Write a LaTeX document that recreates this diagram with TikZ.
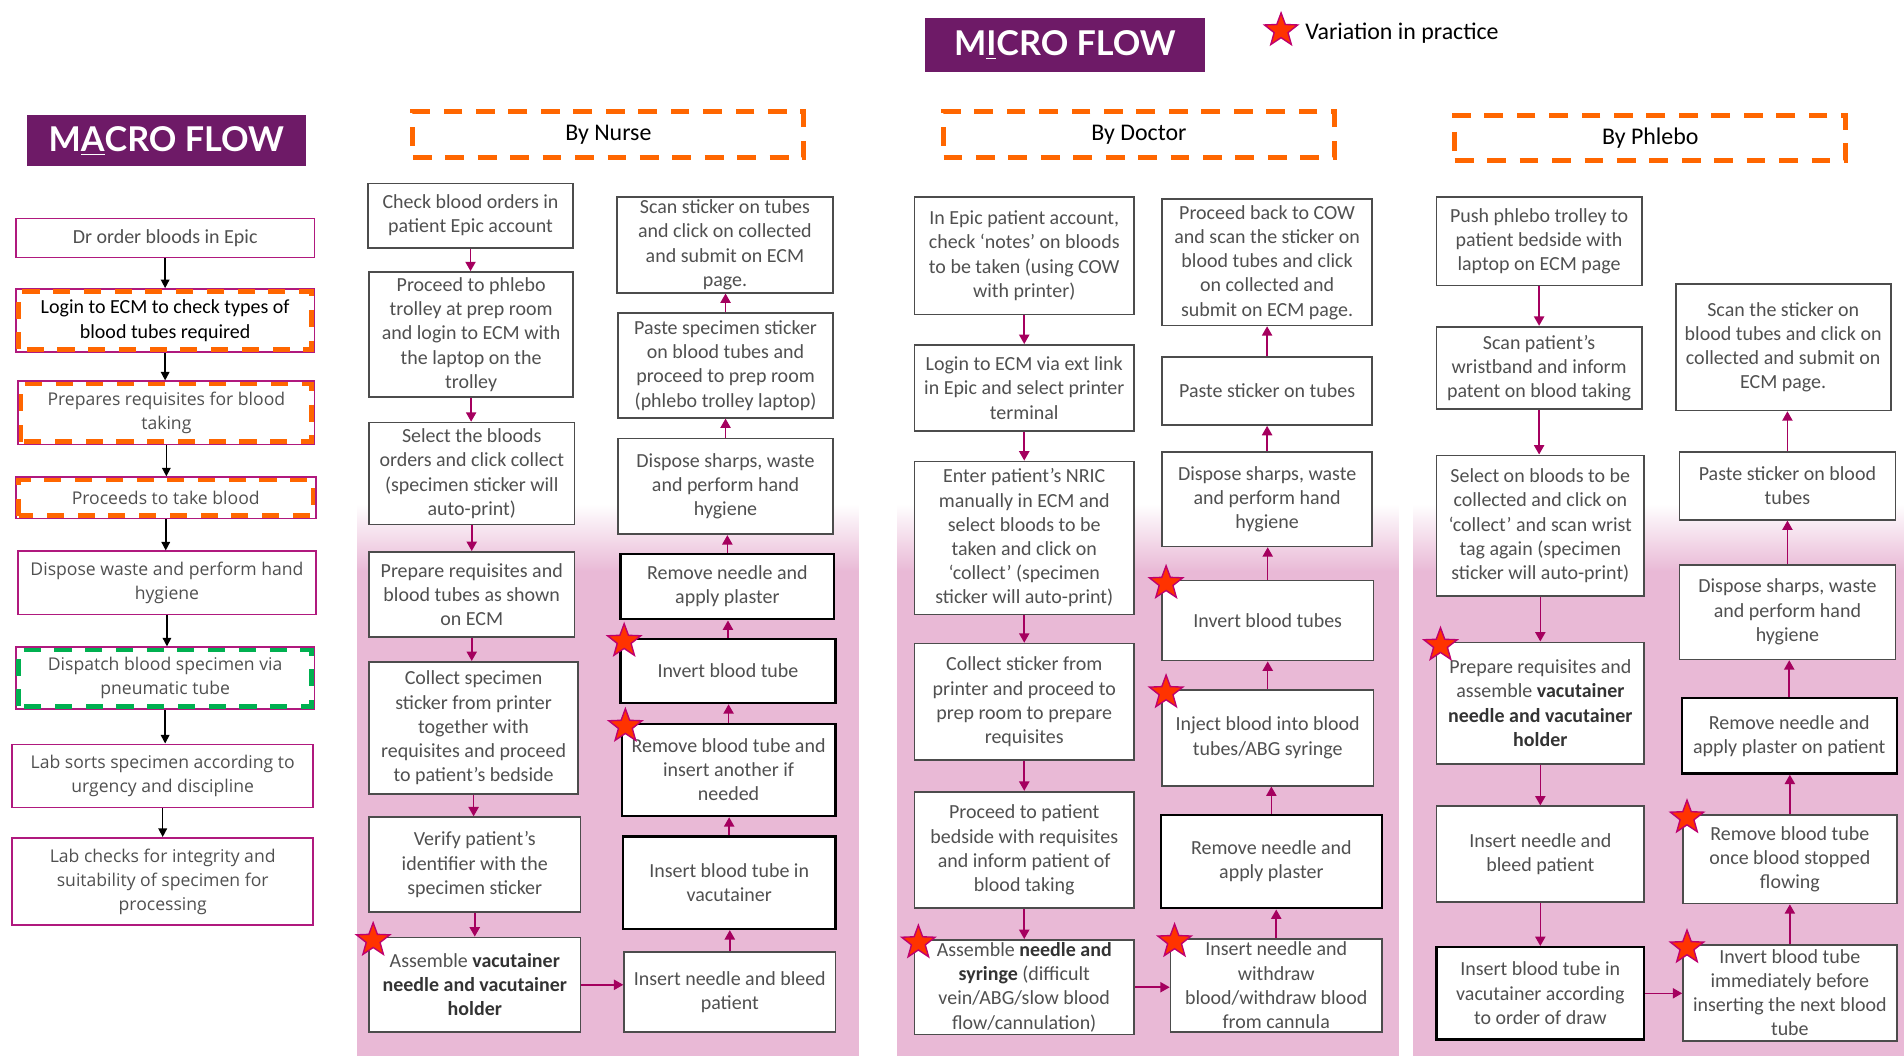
\documentclass[tikz,border=0pt]{standalone}
\usepackage{fontspec}
\setmainfont{Carlito}
\newfontfamily\gillfont{Open Sans}
\newfontfamily\headfont{Lato}
\usetikzlibrary{arrows.meta,shapes.geometric,calc}

\definecolor{plum}{RGB}{110,26,103}
\definecolor{pinkbg}{RGB}{233,185,214}
\definecolor{magline}{RGB}{176,25,126}
\definecolor{arrmag}{RGB}{165,0,95}
\definecolor{orangedash}{RGB}{255,102,0}
\definecolor{greendash}{RGB}{0,176,80}
\definecolor{txtgray}{RGB}{80,80,80}
\definecolor{starred}{RGB}{255,51,0}
\definecolor{starline}{RGB}{190,0,110}

\newcommand{\bfdark}[1]{\textcolor{black!80}{\textbf{#1}}}

\tikzset{
  wh/.style 2 args={minimum width=#1*0.025cm, minimum height=#2*0.025cm},
  flowbox/.style={draw=black!70, line width=1pt, fill=white, inner sep=0pt, align=center,
    text=txtgray, font=\fontsize{11.7}{14.2}\selectfont},
  flowboxb/.style={flowbox, draw=black, line width=1.4pt},
  macrobox/.style={draw=magline, line width=1pt, fill=white, inner sep=0pt, align=center,
    text=txtgray, font={\gillfont\fontsize{10.3}{14}\selectfont}},
  macrocal/.style={macrobox, font=\fontsize{11.7}{14.2}\selectfont},
  odash/.style={draw=orangedash, line width=2.8pt, dash pattern=on 10pt off 8pt},
  gdash/.style={odash, draw=greendash},
  hdbox/.style={draw=orangedash, line width=2.8pt, dash pattern=on 11pt off 8pt, inner sep=0pt,
    font=\fontsize{14}{16}\selectfont},
  titlebox/.style={fill=plum, text=white, inner sep=0pt, font={\headfont\bfseries\fontsize{20}{24}\selectfont}},
  vstar/.style={star, star points=5, star point ratio=2.4, minimum size=0.72cm, inner sep=0pt,
    fill=starred, draw=starline, line width=0.8pt},
  macroarr/.style={-{Triangle[length=5pt,width=5pt]}, black, line width=0.9pt},
  flowarr/.style={-{Triangle[length=5.5pt,width=6pt]}, arrmag, line width=0.9pt}
}

\begin{document}
\begin{tikzpicture}[x=0.025cm, y=-0.025cm]
\useasboundingbox (0,0) rectangle (1568,870);
\fill[white] (0,0) rectangle (1568,870);

% pink panels behind the micro flows
\foreach \xa/\xb in {294/707, 739/1152, 1164/1568} {
  \fill[pinkbg] (\xa,470) rectangle (\xb,870);
  \shade[top color=white, bottom color=pinkbg] (\xa,415) rectangle (\xb,470.5);
}

% titles and legend
\node[titlebox, wh={230}{42}] (macro) at (137,116) {M\underline{A}CRO FLOW};
\node[titlebox, wh={230}{44}] (micro) at (877,37) {M\underline{I}CRO FLOW};
\node[vstar] (legstar) at (1055,25) {};
\node[anchor=west, font=\fontsize{14}{16}\selectfont] (legtext) at (1070,27) {Variation in practice};

\node[hdbox, wh={322}{38}] (hnurse) at (501,111) {By Nurse};
\node[hdbox, wh={322}{38}] (hdoctor) at (938,111) {By Doctor};
\node[hdbox, wh={322}{37}] (hphlebo) at (1359,113.5) {By Phlebo};

% macro flow
\node[macrocal, wh={246}{32}] (m1) at (136,196) {Dr order bloods in Epic};
\node[macrocal, text=black, wh={246}{52}] (m2) at (136,264) {Login to ECM to check types of\\blood tubes required};
\node[macrobox, wh={244}{52}] (m3) at (137,340) {Prepares requisites for blood\\taking};
\node[macrobox, wh={247}{34}] (m4) at (136.5,410) {Proceeds to take blood};
\node[macrobox, wh={245}{52}] (m5) at (137.5,480) {Dispose waste and perform hand\\hygiene};
\node[macrobox, wh={246}{51}] (m6) at (136,558.5) {Dispatch blood specimen via\\pneumatic tube};
\node[macrobox, wh={248}{52}] (m7) at (134,639) {Lab sorts specimen according to\\urgency and discipline};
\node[macrobox, wh={248}{72}] (m8) at (134,726) {Lab checks for integrity and\\suitability of specimen for\\processing};

\foreach \m in {m2,m3,m4}
  \draw[odash] ($(\m.south west)+(3,-3)$) rectangle ($(\m.north east)+(-3,3)$);
\draw[gdash] ($(m6.south west)+(3,-3)$) rectangle ($(m6.north east)+(-3,3)$);

\foreach \a/\b in {m1/m2, m2/m3, m3/m4, m4/m5, m5/m6, m6/m7, m7/m8}
  \draw[macroarr] (\a.south) -- (\a.south |- \b.north);

% by nurse
\node[flowbox, wh={169}{53}] (n1) at (387.5,177.5) {Check blood orders in\\patient Epic account};
\node[flowbox, wh={168}{103}] (n2) at (388,275.5) {Proceed to phlebo\\trolley at prep room\\and login to ECM with\\the laptop on the\\trolley};
\node[flowbox, wh={169}{84}] (n3) at (388.5,390) {Select the bloods\\orders and click collect\\(specimen sticker will\\auto-print)};
\node[flowbox, wh={169}{70}] (n4) at (388.5,489.5) {Prepare requisites and\\blood tubes as shown\\on ECM};
\node[flowbox, wh={172}{109}] (n5) at (390,599.5) {Collect specimen\\sticker from printer\\together with\\requisites and proceed\\to patient’s bedside};
\node[flowbox, wh={174}{78}] (n6) at (391,712) {Verify patient’s\\identifier with the\\specimen sticker};
\node[flowbox, wh={174}{78}] (n7) at (391,811) {Assemble \bfdark{vacutainer}\\\bfdark{needle and vacutainer}\\\bfdark{holder}};

\node[flowbox, wh={174}{66}] (r1) at (601,817) {Insert needle and bleed\\patient};
\node[flowboxb, wh={175}{76}] (r2) at (600.5,727) {Insert blood tube in\\vacutainer};
\node[flowboxb, wh={176}{76}] (r3) at (600,634) {Remove blood tube and\\insert another if\\needed};
\node[flowboxb, wh={177}{53}] (r4) at (599.5,552.5) {Invert blood tube};
\node[flowboxb, wh={176}{54}] (r5) at (599,483) {Remove needle and\\apply plaster};
\node[flowbox, wh={177}{79}] (r6) at (597.5,400.5) {Dispose sharps, waste\\and perform hand\\hygiene};
\node[flowbox, wh={177}{86}] (r7) at (597.5,301) {Paste specimen sticker\\on blood tubes and\\proceed to prep room\\(phlebo trolley laptop)};
\node[flowbox, wh={178}{79}] (r8) at (597,201.5) {Scan sticker on tubes\\and click on collected\\and submit on ECM\\page.};

% by doctor
\node[flowbox, wh={181}{97}] (d1) at (843.5,210.5) {In Epic patient account,\\check ‘notes’ on bloods\\to be taken (using COW\\with printer)};
\node[flowbox, wh={181}{71}] (d2) at (843.5,319.5) {Login to ECM via ext link\\in Epic and select printer\\terminal};
\node[flowbox, wh={181}{126}] (d3) at (843.5,443) {Enter patient’s NRIC\\manually in ECM and\\select bloods to be\\taken and click on\\‘collect’ (specimen\\sticker will auto-print)};
\node[flowbox, wh={181}{96}] (d4) at (843.5,578) {Collect sticker from\\printer and proceed to\\prep room to prepare\\requisites};
\node[flowbox, wh={181}{96}] (d5) at (843.5,700) {Proceed to patient\\bedside with requisites\\and inform patient of\\blood taking};
\node[flowbox, wh={181}{78}] (d6) at (843.5,813) {Assemble \bfdark{needle and}\\\bfdark{syringe} (difficult\\vein/ABG/slow blood\\flow/cannulation)};

\node[flowbox, wh={174}{77}] (e1) at (1051,811.5) {Insert needle and\\withdraw\\blood/withdraw blood\\from cannula};
\node[flowboxb, wh={182}{77}] (e2) at (1047,709.5) {Remove needle and\\apply plaster};
\node[flowbox, wh={174}{79}] (e3) at (1044,607.5) {Inject blood into blood\\tubes/ABG syringe};
\node[flowbox, wh={174}{66}] (e4) at (1044,511) {Invert blood tubes};
\node[flowbox, wh={173}{78}] (e5) at (1043.5,411) {Dispose sharps, waste\\and perform hand\\hygiene};
\node[flowbox, wh={173}{56}] (e6) at (1043.5,322) {Paste sticker on tubes};
\node[flowbox, wh={173}{104}] (e7) at (1043.5,216) {Proceed back to COW\\and scan the sticker on\\blood tubes and click\\on collected and\\submit on ECM page.};

% by phlebo
\node[flowbox, wh={169}{73}] (p1) at (1267.5,198.5) {Push phlebo trolley to\\patient bedside with\\laptop on ECM page};
\node[flowbox, wh={169}{68}] (p2) at (1267.5,303) {Scan patient’s\\wristband and inform\\patent on blood taking};
\node[flowbox, wh={171}{116}] (p3) at (1268.5,433) {Select on bloods to be\\collected and click on\\‘collect’ and scan wrist\\tag again (specimen\\sticker will auto-print)};
\node[flowbox, wh={171}{100}] (p4) at (1268.5,579) {Prepare requisites and\\assemble \bfdark{vacutainer}\\\bfdark{needle and vacutainer}\\\bfdark{holder}};
\node[flowbox, wh={171}{79}] (p5) at (1268.5,703.5) {Insert needle and\\bleed patient};
\node[flowboxb, wh={171}{76}] (p6) at (1268.5,818) {Insert blood tube in\\vacutainer according\\to order of draw};

\node[flowbox, wh={176}{79}] (q1) at (1474,817.5) {Invert blood tube\\immediately before\\inserting the next blood\\tube};
\node[flowbox, wh={176}{73}] (q2) at (1474,707.5) {Remove blood tube\\once blood stopped\\flowing};
\node[flowboxb, wh={177}{62}] (q3) at (1473.5,606) {Remove needle and\\apply plaster on patient};
\node[flowbox, wh={178}{78}] (q4) at (1472,504) {Dispose sharps, waste\\and perform hand\\hygiene};
\node[flowbox, wh={178}{56}] (q5) at (1472,400) {Paste sticker on blood\\tubes};
\node[flowbox, wh={177}{104}] (q6) at (1468.5,286) {Scan the sticker on\\blood tubes and click on\\collected and submit on\\ECM page.};

% connectors
\foreach \a/\b in {n1/n2, n2/n3, n3/n4, n4/n5, n5/n6, n6/n7,
                   d1/d2, d2/d3, d3/d4, d4/d5, d5/d6,
                   p1/p2, p2/p3, p3/p4, p4/p5, p5/p6}
  \draw[flowarr] (\a.south) -- (\a.south |- \b.north);
\foreach \a/\b in {r1/r2, r2/r3, r3/r4, r4/r5, r5/r6, r6/r7, r7/r8,
                   e1/e2, e2/e3, e3/e4, e4/e5, e5/e6, e6/e7,
                   q1/q2, q2/q3, q3/q4, q4/q5, q5/q6}
  \draw[flowarr] (\a.north) -- (\a.north |- \b.south);
\draw[flowarr] (n7.east) -- (n7.east -| r1.west);
\draw[flowarr] (d6.east) -- (d6.east -| e1.west);
\draw[flowarr] (p6.east) -- (p6.east -| q1.west);

% variation stars
\foreach \s in {n7, r3, r4, d6, e1, e3, e4, p4, q1, q2}
  \node[vstar] at ([shift={(4,3)}]\s.north west) {};

\end{tikzpicture}
\end{document}
